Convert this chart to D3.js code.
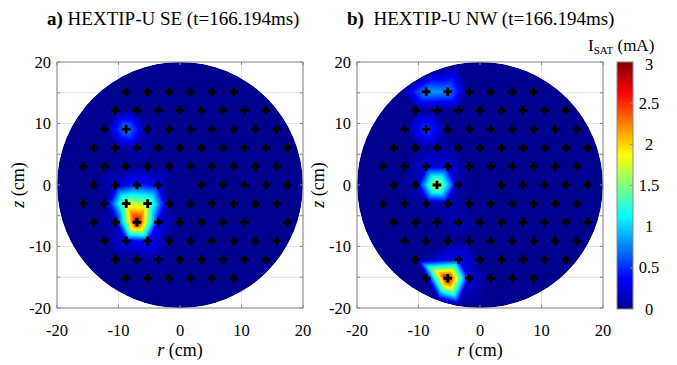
<!DOCTYPE html>
<html>
<head>
<meta charset="utf-8">
<script src="https://cdn.jsdelivr.net/npm/d3@7"></script>
<style>
  body { margin: 0; background: #fff; }
</style>
</head>
<body>
<div id="app"></div>
<script>
// probe rows (z, cm) of the hexagonal array
const zRows = [15.16, 12.12, 9.09, 6.06, 3.03, 0, -3.03, -6.06, -9.09, -12.12, -15.16]

// r positions (cm) of working probes in each row
const probesA = [
  [-8.75, -5.25, -1.75, 1.75, 5.25, 8.75],
  [-10.5, -7, -3.5, 0, 3.5, 7, 10.5, 14],
  [-12.25, -8.75, -5.25, -1.75, 1.75, 5.25, 8.75, 12.25, 15.75],
  [-14, -10.5, -7, -3.5, 0, 3.5, 7, 10.5, 14, 17.5],
  [-15.75, -12.25, -8.75, -5.25, -1.75, 1.75, 5.25, 8.75, 12.25, 15.75],
  [-14, -10.5, -7, -3.5, 3.5, 7, 10.5, 14, 17.5],
  [-15.75, -12.25, -8.75, -5.25, -1.75, 1.75, 5.25, 8.75, 12.25, 15.75],
  [-14, -10.5, -7, -3.5, 0, 3.5, 7, 10.5, 17.5],
  [-12.25, -8.75, -5.25, -1.75, 1.75, 5.25, 8.75, 12.25, 15.75],
  [-10.5, -7, -3.5, 0, 3.5, 7, 10.5, 14],
  [-8.75, -5.25, -1.75, 1.75, 5.25, 8.75]
]
const probesB = [
  [-8.75, -5.25, -1.75, 1.75, 5.25, 8.75],
  [-10.5, -7, -3.5, 0, 3.5, 7, 10.5, 14],
  [-12.25, -8.75, -5.25, -1.75, 1.75, 5.25, 8.75, 12.25, 15.75],
  [-14, -10.5, -7, -3.5, 0, 3.5, 7, 10.5, 14, 17.5],
  [-15.75, -12.25, -8.75, -5.25, -1.75, 1.75, 5.25, 8.75, 12.25, 15.75],
  [-14, -10.5, -7, -3.5, 3.5, 7, 10.5, 14, 17.5],
  [-15.75, -12.25, -8.75, -5.25, -1.75, 1.75, 5.25, 8.75, 12.25, 15.75],
  [-14, -10.5, -7, -3.5, 0, 3.5, 7, 10.5, 14, 17.5],
  [-12.25, -8.75, -5.25, -1.75, 1.75, 5.25, 8.75, 12.25, 15.75],
  [-10.5, -3.5, 0, 3.5, 7, 10.5, 14],
  [-8.75, -5.25, -1.75, 1.75, 5.25, 8.75]
]

// probes with non-zero I_SAT (mA): [r, z, value]; all others read 0
const isatA = [
  [-8.75, 9.09, 0.8], [-7, 6.06, 0.12], [-5.25, 9.09, 0.06],
  [-10.5, 0, 0.2], [-7, 0, 0.5], [-3.5, 0, 0.3],
  [-8.75, -3.03, 1.7], [-5.25, -3.03, 1.6],
  [-10.5, -6.06, 0.15], [-7, -6.06, 2.8], [-3.5, -6.06, 0.3],
  [-8.75, -9.09, 0.3], [-5.25, -9.09, 0.4], [-3.5, -12.12, 0.08]
]
const isatB = [
  [-8.75, 15.16, 0.85], [-5.25, 15.16, 0.8],
  [-8.75, 9.09, 0.6], [-7, 6.06, 0.1],
  [-8.75, 3.03, 0.25], [-5.25, 3.03, 0.25],
  [-10.5, 0, 0.1], [-7, 0, 1.85], [-3.5, 0, 0.1],
  [-8.75, -3.03, 0.08], [-5.25, -3.03, 0.12], [-3.5, -6.06, 0.12],
  [-3.5, -12.12, 0.4], [-5.25, -15.16, 2.85], [-1.75, -15.16, 0.25]
]

const titles = [['a)', ' HEXTIP-U SE (t=166.194ms)'], ['b)', '  HEXTIP-U NW (t=166.194ms)']]
const rTicks = [-20, -10, 0, 10, 20]
const rLabels = ['-20', '-10', '0', '10', '20']
const zTicks = [20, 15, 10, 5, 0, -5, -10, -15, -20]
const zLabels = ['20', '', '10', '', '0', '', '-10', '', '-20']
const cbTicks = [0, 0.5, 1, 1.5, 2, 2.5, 3]
const cbLabels = ['0', '0.5', '1', '1.5', '2', '2.5', '3']

const W = 677, H = 365
const size = 246
const panelsX = [57, 357]
const plotTop = 62

const jet = d3.scaleLinear()
  .domain([0, 0.375, 1.125, 1.875, 2.625, 3])
  .range(['#00008f', '#0000ff', '#00ffff', '#ffff00', '#ff0000', '#800000'])
  .clamp(true)

const x = d3.scaleLinear().domain([-20, 20]).range([0, size])
const y = d3.scaleLinear().domain([-20, 20]).range([size, 0])

const svg = d3.select('#app').append('svg')
  .attr('width', W).attr('height', H)
  .attr('font-family', 'Liberation Serif, Times New Roman, Times, DejaVu Serif, serif')

const defs = svg.append('defs')
defs.append('clipPath').attr('id', 'disk')
  .append('circle').attr('cx', x(0)).attr('cy', y(0)).attr('r', x(20) - x(0))

// linear interpolation of probe values on a Delaunay triangulation
const n = 220
const step = 40 / n
function field(rows, isat) {
  const pts = []
  rows.forEach((rs, i) => rs.forEach(r => pts.push([r, zRows[i], 0])))
  isat.forEach(([r, z, v]) => {
    const p = pts.find(p => Math.abs(p[0] - r) < 0.1 && Math.abs(p[1] - z) < 0.1)
    if (p) p[2] = v
  })
  d3.range(0, 360, 10).forEach(a => {
    const t = a * Math.PI / 180
    pts.push([20 * Math.cos(t), 20 * Math.sin(t), 0])
  })
  const del = d3.Delaunay.from(pts, p => p[0], p => p[1])
  const grid = new Float64Array(n * n)
  const tri = del.triangles
  for (let t = 0; t < tri.length; t += 3) {
    const a = pts[tri[t]], b = pts[tri[t + 1]], c = pts[tri[t + 2]]
    if (a[2] === 0 && b[2] === 0 && c[2] === 0) continue
    const det = (b[1] - c[1]) * (a[0] - c[0]) + (c[0] - b[0]) * (a[1] - c[1])
    const i0 = Math.max(0, Math.floor((Math.min(a[0], b[0], c[0]) + 20) / step - 1))
    const i1 = Math.min(n - 1, Math.ceil((Math.max(a[0], b[0], c[0]) + 20) / step + 1))
    const j0 = Math.max(0, Math.floor((20 - Math.max(a[1], b[1], c[1])) / step - 1))
    const j1 = Math.min(n - 1, Math.ceil((20 - Math.min(a[1], b[1], c[1])) / step + 1))
    for (let j = j0; j <= j1; j++) {
      const pz = 20 - (j + 0.5) * step
      for (let i = i0; i <= i1; i++) {
        const pr = -20 + (i + 0.5) * step
        const wa = ((b[1] - c[1]) * (pr - c[0]) + (c[0] - b[0]) * (pz - c[1])) / det
        const wb = ((c[1] - a[1]) * (pr - c[0]) + (a[0] - c[0]) * (pz - c[1])) / det
        const wc = 1 - wa - wb
        if (wa >= -1e-9 && wb >= -1e-9 && wc >= -1e-9) {
          grid[j * n + i] = wa * a[2] + wb * b[2] + wc * c[2]
        }
      }
    }
  }
  return grid
}

const toScreen = d3.geoPath(d3.geoTransform({
  point(gx, gy) { this.stream.point(x(-20 + gx * step), y(20 - gy * step)) }
}))
const levels = d3.range(0.03, 3, 0.03)

const panels = [[probesA, isatA], [probesB, isatB]]
panels.forEach(([rows, isat], k) => {
  const g = svg.append('g').attr('transform', `translate(${panelsX[k]},${plotTop})`)

  // gridlines
  g.append('g').selectAll('line').data(zTicks).join('line')
    .attr('x1', 0).attr('x2', size)
    .attr('y1', d => y(d)).attr('y2', d => y(d))
    .attr('stroke', '#e3e3e3').attr('stroke-width', 1)
  g.append('g').selectAll('line').data(rTicks).join('line')
    .attr('y1', 0).attr('y2', size)
    .attr('x1', d => x(d)).attr('x2', d => x(d))
    .attr('stroke', '#e3e3e3').attr('stroke-width', 1)

  // heat map
  const heat = g.append('g').attr('clip-path', 'url(#disk)')
  heat.append('circle').attr('cx', x(0)).attr('cy', y(0)).attr('r', x(20) - x(0))
    .attr('fill', jet(0))
  const grid = field(rows, isat)
  const cs = d3.contours().size([n, n]).thresholds(levels)(grid)
  heat.selectAll('path').data(cs).join('path')
    .attr('d', toScreen)
    .attr('fill', d => jet(d.value + 0.015))

  // probes
  const pts = []
  rows.forEach((rs, i) => rs.forEach(r => pts.push([r, zRows[i]])))
  g.append('g').selectAll('path').data(pts).join('path')
    .attr('transform', d => `translate(${x(d[0])},${y(d[1])})`)
    .attr('d', d3.symbol(d3.symbolCross, 42))
    .attr('fill', '#000')

  // box and inward ticks
  g.append('rect').attr('width', size).attr('height', size)
    .attr('fill', 'none').attr('stroke', '#8a8a8a').attr('stroke-width', 1)
  const tk = g.append('g').attr('stroke', '#8a8a8a')
  zTicks.forEach(d => {
    tk.append('line').attr('x1', 0).attr('x2', 3).attr('y1', y(d)).attr('y2', y(d))
    tk.append('line').attr('x1', size - 3).attr('x2', size).attr('y1', y(d)).attr('y2', y(d))
  })
  rTicks.forEach(d => {
    tk.append('line').attr('y1', 0).attr('y2', 3).attr('x1', x(d)).attr('x2', x(d))
    tk.append('line').attr('y1', size - 3).attr('y2', size).attr('x1', x(d)).attr('x2', x(d))
  })

  // tick labels
  g.append('g').selectAll('text').data(zTicks).join('text')
    .attr('x', -6).attr('y', d => y(d) + 5.5)
    .attr('text-anchor', 'end').attr('font-size', 16.5)
    .text((d, i) => zLabels[i])
  g.append('g').selectAll('text').data(rTicks).join('text')
    .attr('x', d => x(d)).attr('y', size + 28)
    .attr('text-anchor', 'middle').attr('font-size', 16.5)
    .text((d, i) => rLabels[i])

  // axis labels
  const xl = g.append('text').attr('x', size / 2).attr('y', size + 48)
    .attr('text-anchor', 'middle').attr('font-size', 18)
  xl.append('tspan').attr('font-style', 'italic').text('r')
  xl.append('tspan').text(' (cm)')
  const yl = g.append('text')
    .attr('transform', `translate(-33,${size / 2}) rotate(-90)`)
    .attr('text-anchor', 'middle').attr('font-size', 18)
  yl.append('tspan').attr('font-style', 'italic').text('z')
  yl.append('tspan').text(' (cm)')

  // title
  const t = g.append('text').attr('x', -10).attr('y', 25 - plotTop).attr('font-size', 19)
    .attr('xml:space', 'preserve')
  t.append('tspan').attr('font-weight', 'bold').text(titles[k][0])
  t.append('tspan').text(titles[k][1])
})

// colour bar
const cb = d3.scaleLinear().domain([0, 3]).range([309, 62])
const grad = defs.append('linearGradient').attr('id', 'jet')
  .attr('x1', 0).attr('y1', 1).attr('x2', 0).attr('y2', 0)
grad.selectAll('stop').data(d3.range(0, 3.001, 0.125)).join('stop')
  .attr('offset', d => d / 3).attr('stop-color', d => jet(d))
svg.append('rect').attr('x', 617).attr('y', cb(3)).attr('width', 16)
  .attr('height', cb(0) - cb(3)).attr('fill', 'url(#jet)')
  .attr('stroke', '#8a8a8a').attr('stroke-width', 1)
svg.append('g').attr('stroke', '#8a8a8a').selectAll('line').data(cbTicks).join('line')
  .attr('x1', 630).attr('x2', 633).attr('y1', d => cb(d)).attr('y2', d => cb(d))
svg.append('g').selectAll('text').data(cbTicks).join('text')
  .attr('x', 649).attr('y', d => cb(d) + (d === 3 ? 8 : 5.5))
  .attr('text-anchor', 'middle').attr('font-size', 16.5)
  .text((d, i) => cbLabels[i])
const cl = svg.append('text').attr('x', 588).attr('y', 51).attr('font-size', 17)
cl.append('tspan').text('I')
cl.append('tspan').attr('font-size', 11).attr('dy', 3).text('SAT')
cl.append('tspan').attr('dy', -3).text(' (mA)')
</script>
</body>
</html>
